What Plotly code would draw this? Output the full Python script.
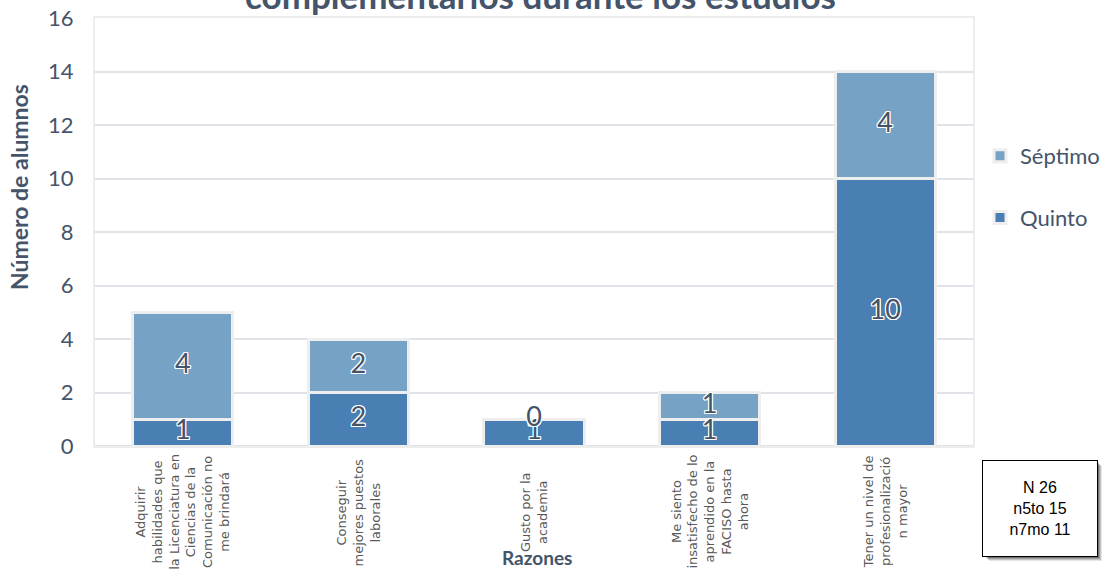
import plotly.graph_objects as go

# Reasons given by students, one wrapped label per bar
razones = [
    "Adquirir<br>habilidades que<br>la Licenciatura en<br>Ciencias de la<br>Comunicación no<br>me brindará",
    "Conseguir<br>mejores puestos<br>laborales",
    "Gusto por la<br>academia",
    "Me siento<br>insatisfecho de lo<br>aprendido en la<br>FACISO hasta<br>ahora",
    "Tener un nivel de<br>profesionalizació<br>n mayor",
]
categorias = ["r1", "r2", "r3", "r4", "r5"]

quinto = [1, 2, 1, 1, 10]
septimo = [4, 2, 0, 1, 4]

y_ticks = [0, 2, 4, 6, 8, 10, 12, 14, 16]

titulo = "complementarios durante los estudios"
eje_y = "Número de alumnos"
eje_x = "Razones"
resumen = "N 26<br>n5to 15<br>n7mo 11"

W, H = 1102, 571
ML, MR, MT, MB = 95, 129, 18, 125
PW, PH = W - ML - MR, H - MT - MB

C_QUINTO = "#4a7fb4"
C_SEPTIMO = "#76a2c6"
TXT = "#44546a"
GRID = "#e0e4ea"
FONT = "Lato, 'Open Sans', sans-serif"


def px_x(p):
    return (p - ML) / PW


def px_y(p):
    return (H - MB - p) / PH


outline = dict(color="#eeeeee", width=3)
label_shadow = ("1px 1px 0 #fff, -1px -1px 0 #fff, 1px -1px 0 #fff, -1px 1px 0 #fff, "
                "0 1px 0 #fff, 0 -1px 0 #fff, 1px 0 0 #fff, -1px 0 0 #fff")

fig = go.Figure()
fig.add_trace(go.Bar(
    name="Quinto", x=categorias, y=quinto, marker=dict(color=C_QUINTO, line=outline),
    legendgroup="q", legendrank=2, textposition="none", hoverinfo="y+name",
))
fig.add_trace(go.Bar(
    name="Séptimo", x=categorias, y=septimo, marker=dict(color=C_SEPTIMO, line=outline),
    legendgroup="s", legendrank=1, textposition="none", hoverinfo="y+name",
))

# value labels centred on each stacked segment
lbl_font = dict(family=FONT, size=27, color=TXT, shadow=label_shadow)
fig.add_trace(go.Scatter(
    x=categorias, y=[v / 2 for v in quinto], text=[str(v) for v in quinto],
    mode="text", textfont=lbl_font, showlegend=False, hoverinfo="skip",
))
fig.add_trace(go.Scatter(
    x=categorias, y=[q + s / 2 for q, s in zip(quinto, septimo)], text=[str(v) for v in septimo],
    mode="text", textfont=lbl_font, showlegend=False, hoverinfo="skip",
))

annotations = []
# wrapped category labels, rotated
for cat, txt in zip(categorias, razones):
    annotations.append(dict(
        x=cat, xref="x", y=px_y(512), yref="paper", text=txt, showarrow=False,
        textangle=-90, align="center", xanchor="center", yanchor="middle",
        font=dict(family="'DejaVu Sans', sans-serif", size=13, color="#595959"),
    ))
annotations += [
    dict(x=px_x(537), xref="paper", y=px_y(557), yref="paper", text="<b>%s</b>" % eje_x,
         showarrow=False, xanchor="center", yanchor="middle",
         font=dict(family=FONT, size=19, color=TXT)),
    dict(x=px_x(19), xref="paper", y=px_y(187), yref="paper", text="<b>%s</b>" % eje_y,
         showarrow=False, textangle=-90, xanchor="center", yanchor="middle",
         font=dict(family=FONT, size=23, color=TXT)),
    dict(x=px_x(540), xref="paper", y=px_y(18.5), yref="paper", text="<b>%s</b>" % titulo,
         showarrow=False, xanchor="center", yanchor="bottom",
         font=dict(family=FONT, size=35, color=TXT)),
    dict(x=px_x(1040), xref="paper", y=px_y(508.5), yref="paper", text=resumen,
         showarrow=False, xanchor="center", yanchor="middle", align="center",
         width=112, height=93, bgcolor="white", bordercolor="#000000", borderwidth=1,
         font=dict(family="'Liberation Sans', Arial, sans-serif", size=16, color="#000000")),
]

# soft drop shadow behind the summary box
shapes = []
for off, op in [(5, 0.10), (4, 0.15), (3, 0.2), (2, 0.25)]:
    shapes.append(dict(
        type="rect", xref="paper", yref="paper", layer="above",
        x0=px_x(984 + off), x1=px_x(1097 + off), y0=px_y(461 + off), y1=px_y(556 + off),
        fillcolor="rgba(0,0,0,%s)" % op, line=dict(width=0),
    ))

fig.update_layout(
    width=W, height=H,
    margin=dict(l=ML, r=MR, t=MT, b=MB, pad=0, autoexpand=False),
    paper_bgcolor="white", plot_bgcolor="white",
    barmode="stack", bargap=0.43,
    font=dict(family=FONT, color=TXT),
    showlegend=True,
    legend=dict(
        xref="container", yref="container",
        x=980 / W, y=1 - 135 / H, xanchor="left", yanchor="top",
        traceorder="grouped", tracegroupgap=30,
        font=dict(family=FONT, size=22, color=TXT),
        itemwidth=30, bgcolor="rgba(0,0,0,0)",
    ),
    annotations=annotations,
    shapes=shapes,
)
fig.update_xaxes(
    showticklabels=False, showgrid=False, zeroline=False,
    showline=True, linecolor="#ededed", linewidth=2, mirror=True,
)
fig.update_yaxes(
    range=[0, 16], tickvals=y_ticks, ticktext=[str(t) for t in y_ticks],
    showgrid=True, gridcolor=GRID, gridwidth=2, zeroline=True, zerolinecolor=GRID, zerolinewidth=2,
    showline=True, linecolor="#ededed", linewidth=2, mirror=True,
    tickfont=dict(family=FONT, size=22, color=TXT), ticks="", ticklabelstandoff=15,
)

fig.write_html("out.html")
